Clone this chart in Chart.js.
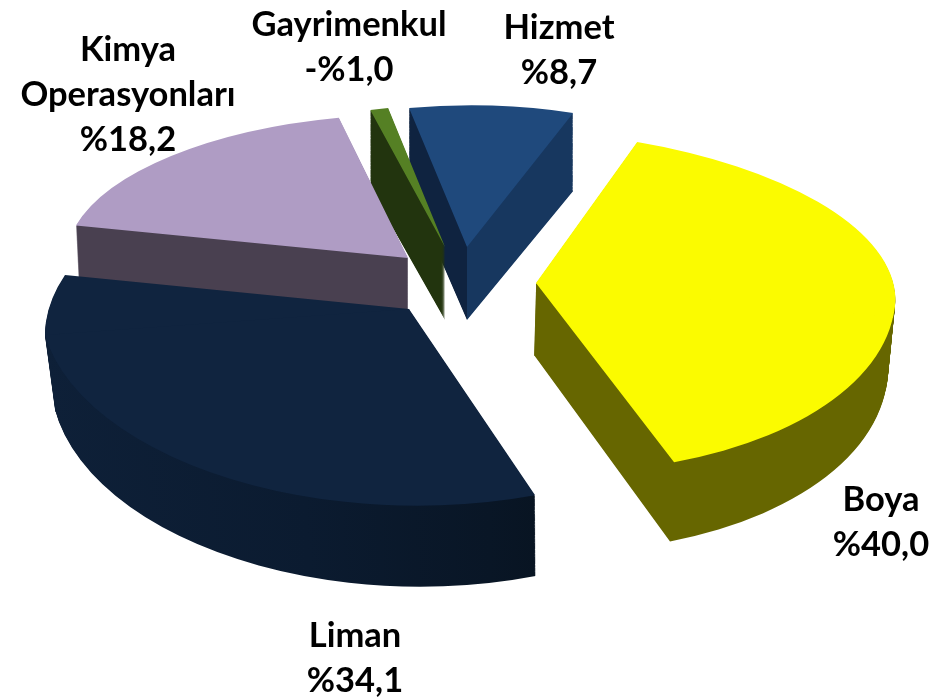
<!DOCTYPE html>
<html><head><meta charset="utf-8">
<style>html,body{margin:0;padding:0;background:#fff}#w{width:948px;height:699px}</style>
<script src="https://cdn.jsdelivr.net/npm/chart.js@4"></script></head>
<body><div id="w"><canvas id="c"></canvas></div>
<script>
const categories = ['Hizmet','Boya','Liman','Kimya Operasyonları','Gayrimenkul'];
const values = [8.7,40.0,34.1,18.2,-1.0];
const topColors = ['#1f497c','#fbfb00','#10243f','#af9cc4','#558024'];
const wallStops = [
 [[0,'#0f2340'],[0.5,'#0f2340'],[0.5,'#17375f'],[1,'#17375f']],
 [[0,'#666600'],[1,'#666600']],
 [[0,'#0e2038'],[0.35,'#0b1b30'],[0.6,'#091626'],[0.85,'#060f18'],[1,'#060f18']],
 [[0,'#494050'],[1,'#494050']],
 [[0,'#22340e'],[1,'#22340e']]
];
/* 3D view of every slice: pivot, image of the unit axes, wall extrusion */
const views = [
 {p:[467,247],x:[311,-1.5],up:[-1.4,141.8],dn:[-1.4,141.8],tilt:0,depth:73,kx:1,ky:.963,sx:0},
 {p:[536,283],x:[357,34],up:[-41.6,148.8],dn:[-40.8,186.2],tilt:-10,depth:72,kx:.985,ky:1.04,sx:-2},
 {p:[409,309],x:[364,-26],up:[1,178],dn:[57,195],tilt:8,depth:75,kx:.98,ky:1.03,sx:3},
 {p:[408,258],x:[342,4.6],up:[-17.2,143.8],dn:[-17.2,143.8],tilt:0,depth:70,kx:.99,ky:1,sx:0},
 {p:[445,247],x:[298,0],up:[0,141.5],dn:[0,141.5],tilt:0,depth:73,kx:1,ky:.963,sx:0}
];
const paintOrder = [0,4,3,1,2];
const labelAnchors = [[559,28],[881,500],[355,636],[128,50],[349,25]];
const lineGap = 45;

function drawSlice(ctx, e, view, h, fill){
  const R = e.outerRadius, t = h/view.depth || 0;
  const fx = 1+(view.kx-1)*t, fy = 1+(view.ky-1)*t;
  const px = view.p[0]+view.sx*t, py = view.p[1]+h;
  const base = e.options;
  if (fill) e.options = Object.assign({}, base, {backgroundColor: fill});
  [[view.up,-R-3,R+5],[view.dn,0,R+3]].forEach(([col,y0,hh])=>{
    const A=view.x[0]*fx/R, C=view.x[1]*fy/R, B=col[0]*fx/R, D=col[1]*fy/R;
    ctx.save();
    ctx.transform(A,C,B,D,px-A*e.x-B*e.y,py-C*e.x-D*e.y);
    ctx.beginPath();
    ctx.rect(e.x-R-3,e.y+y0,2*R+6,hh);
    ctx.clip();
    ctx.translate(e.x,e.y);
    ctx.rotate(view.tilt*Math.PI/180);
    ctx.translate(-e.x,-e.y);
    e.draw(ctx);
    ctx.restore();
  });
  e.options = base;
}

const pie3d = {
  id:'pie3d',
  beforeDatasetsDraw(chart){
    const ctx = chart.ctx, arcs = chart.getDatasetMeta(0).data;
    paintOrder.forEach(i=>{
      const e = arcs[i], v = views[i], R = e.outerRadius;
      const g = ctx.createLinearGradient(e.x-R,0,e.x+R,0);
      wallStops[i].forEach(s=>g.addColorStop(s[0],s[1]));
      for(let h=v.depth;h>=1;h--) drawSlice(ctx,e,v,h,g);
      drawSlice(ctx,e,v,0,null);
    });
    return false;
  },
  afterDraw(chart){
    const ctx = chart.ctx;
    ctx.save();
    ctx.fillStyle='#000';ctx.textAlign='center';ctx.textBaseline='middle';
    ctx.font='bold 34.5px Lato, Carlito, sans-serif';
    categories.forEach((c,i)=>{
      const v = values[i];
      const txt = (v<0?'-':'')+'%'+Math.abs(v).toFixed(1).replace('.',',');
      const lines = c.split(' ').concat([txt]);
      lines.forEach((l,j)=>ctx.fillText(l,labelAnchors[i][0],labelAnchors[i][1]+j*lineGap));
    });
    ctx.restore();
  }
};

new Chart(document.getElementById('c'),{
  type:'pie',
  data:{labels:categories,datasets:[{data:values,backgroundColor:topColors,borderWidth:0,hoverOffset:0}]},
  options:{responsive:true,maintainAspectRatio:false,animation:false,rotation:-11,
    plugins:{legend:{display:false},tooltip:{enabled:false}},events:[]},
  plugins:[pie3d]
});
</script></body></html>
